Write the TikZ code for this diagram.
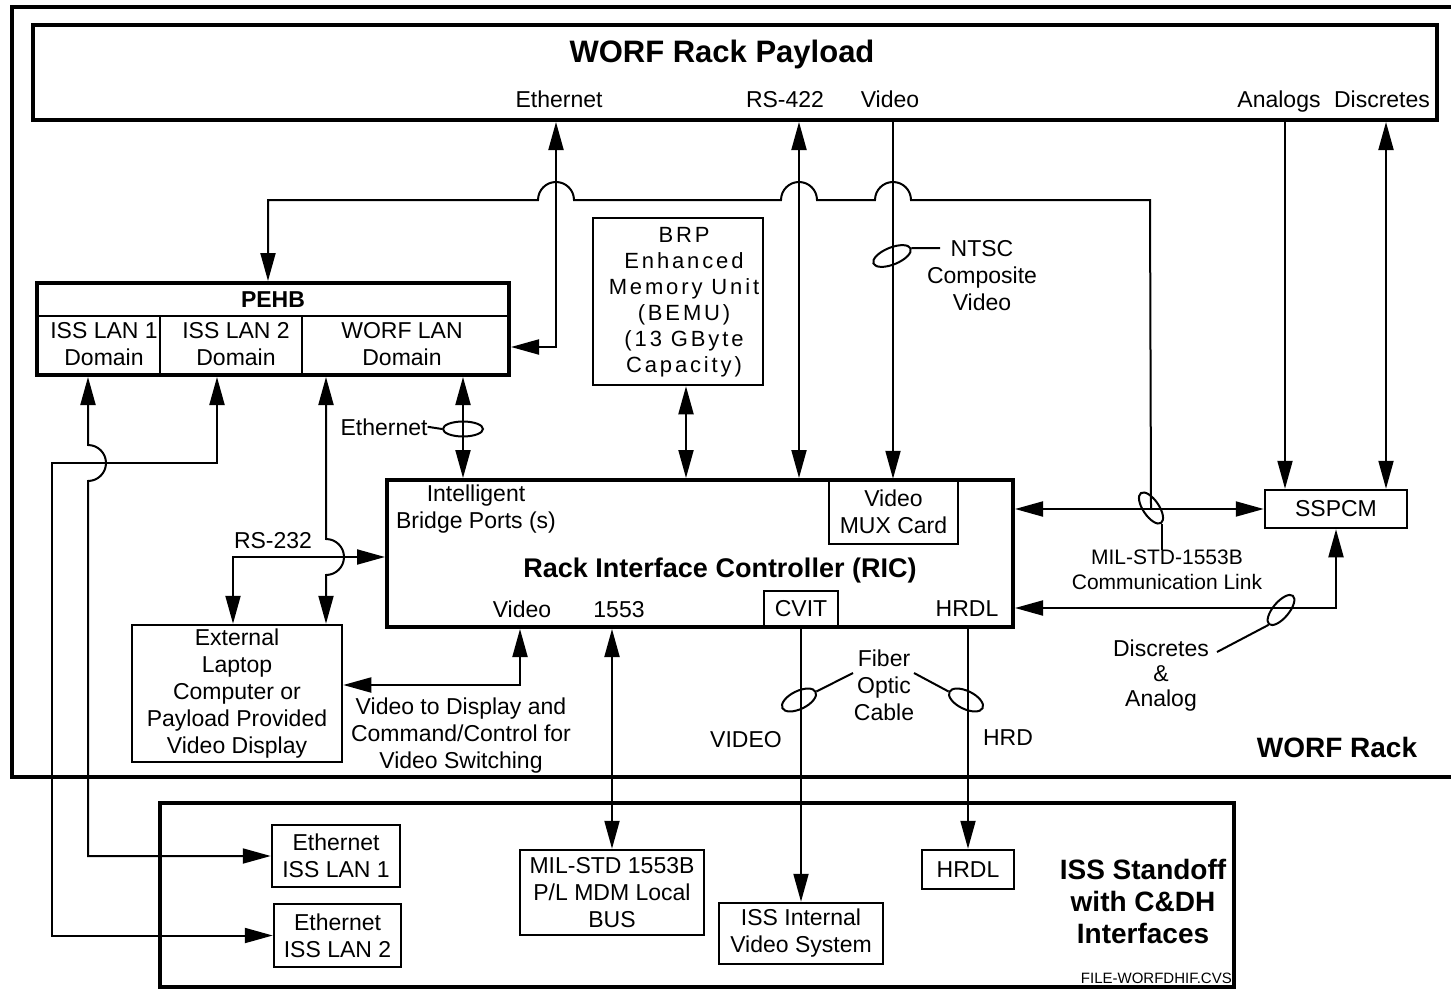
\documentclass[tikz,border=0pt]{standalone}
\usepackage{fontspec}
\setmainfont{Liberation Sans}
\usetikzlibrary{arrows.meta,shapes.geometric,calc}
\newcommand\lblfont{\fontsize{23}{27}\selectfont}
\newcommand\headfont{\fontsize{28}{32}\selectfont\bfseries}
\tikzset{
  wire/.style={line width=2pt},
  oneway/.style={wire, -{Triangle[length=28pt,width=15pt]}},
  twoway/.style={wire, {Triangle[length=28pt,width=15pt]}-{Triangle[length=28pt,width=15pt]}},
  frame/.style={draw, line width=4pt, inner sep=0pt},
  unit/.style={draw, line width=2.5pt, inner sep=0pt, align=center, font=\lblfont},
  tag/.style={inner sep=0pt, font=\lblfont, anchor=base},
  note/.style={inner sep=0pt, align=center, font=\lblfont},
  bundle/.style={draw, ellipse, line width=2pt, inner sep=0pt}
}
\begin{document}
\begin{tikzpicture}[x=1pt,y=-1pt]
  \useasboundingbox (0,0) rectangle (1451,990);
  % WORF rack outline (open at the right edge)
  \draw[line width=4pt] (1460,7) -| (12,777) -- (1460,777);

  % payload
  \node[frame, minimum width=1404pt, minimum height=95pt] (payload) at (735,72.5) {};
  \node[tag, font=\fontsize{31}{36}\selectfont\bfseries] (title) at (722,63) {WORF Rack Payload};
  \node[tag] (ethtop) at (559,107) {Ethernet};
  \node[tag] (rstop) at (785,107) {RS-422};
  \node[tag] (vidtop) at (890,107) {Video};
  \node[tag] (anatop) at (1279,107) {Analogs};
  \node[tag] (distop) at (1382,107) {Discretes};

  % PEHB
  \node[frame, minimum width=472pt, minimum height=92pt] (pehb) at (273,329) {};
  \coordinate (pehbrow) at (0,316);
  \coordinate (cellA) at (160,0);
  \coordinate (cellB) at (302,0);
  \draw[line width=2.5pt] (pehb.west |- pehbrow) -- (pehb.east |- pehbrow);
  \draw[line width=2.5pt] (cellA |- pehbrow) -- (cellA |- pehb.south);
  \draw[line width=2.5pt] (cellB |- pehbrow) -- (cellB |- pehb.south);
  \node[tag, font=\lblfont\bfseries] (pehbname) at (273,307) {PEHB};
  \node[note] (lanone) at (104,344) {ISS LAN 1\\Domain};
  \node[note] (lantwo) at (236,344) {ISS LAN 2\\Domain};
  \node[note] (worflan) at (402,344) {WORF LAN\\Domain};

  % BEMU
  \node[unit, minimum width=170pt, minimum height=167pt] (bemu) at (678,301.5) {};
  \node[note, font=\fontsize{22}{26}\selectfont\addfontfeature{LetterSpace=13}] (bemutext) at (684,302)
    {BRP\\Enhanced\\Memory Unit\\(BEMU)\\(13 GByte\\Capacity)};

  % RIC
  \node[frame, minimum width=626pt, minimum height=147pt] (ric) at (700,553.5) {};
  \node[unit, minimum width=129pt, minimum height=64pt] (mux) at (893.5,512) {Video\\MUX Card};
  \node[unit, minimum width=74pt, minimum height=36pt] (cvit) at (801,609) {CVIT};
  \node[note] (bridge) at (476,509) {Intelligent\\Bridge Ports (s)};
  \node[tag, font=\fontsize{27}{32}\selectfont\bfseries] (ricname) at (720,577) {Rack Interface Controller (RIC)};
  \node[tag] (ricvid) at (522,617) {Video};
  \node[tag] (ric1553) at (619,617) {1553};
  \node[tag] (richrdl) at (967,616) {HRDL};

  \node[unit, minimum width=142pt, minimum height=38pt] (sspcm) at (1336,509) {SSPCM};
  \node[unit, minimum width=210pt, minimum height=137pt] (laptop) at (237,693.5)
    {External\\Laptop\\Computer or\\Payload Provided\\Video Display};

  % ISS standoff
  \node[frame, minimum width=1074pt, minimum height=184pt] (iss) at (697,895) {};
  \node[unit, minimum width=128pt, minimum height=62pt] (lanbox1) at (336,856) {Ethernet\\ISS LAN 1};
  \node[unit, minimum width=127pt, minimum height=63pt] (lanbox2) at (337.5,935.5) {Ethernet\\ISS LAN 2};
  \node[unit, minimum width=184pt, minimum height=85pt] (mdm) at (612,892.5) {MIL-STD 1553B\\P/L MDM Local\\BUS};
  \node[unit, minimum width=164pt, minimum height=61pt] (ivs) at (801,933.5) {ISS Internal\\Video System};
  \node[unit, minimum width=92pt, minimum height=39pt] (hrdlbox) at (968,869.5) {HRDL};
  \node[note, font=\headfont] (standoff) at (1143,901) {ISS Standoff\\with C\&DH\\Interfaces};
  \node[tag, font=\fontsize{15}{18}\selectfont, anchor=base east] (fileid) at (1232,983) {FILE-WORFDHIF.CVS};

  % free labels
  \node[note] (ntsc) at (982,276) {NTSC\\Composite\\Video};
  \node[tag] (ethmid) at (384,435) {Ethernet};
  \node[tag] (rstwo) at (273,548) {RS-232};
  \node[note] (vidnote) at (461,736) {Video to Display and\\Command/Control for\\Video Switching};
  \node[note, font=\fontsize{21}{25}\selectfont] (milnote) at (1167,570) {MIL-STD-1553B\\Communication Link};
  \node[note, font=\fontsize{23}{25}\selectfont] (discnote) at (1161,676) {Discretes\\\&\\Analog};
  \node[tag, font=\headfont] (rackname) at (1337,757) {WORF Rack};
  \node[note] (fiber) at (884,685) {Fiber\\Optic\\Cable};
  \node[tag] (vidlow) at (746,747) {VIDEO};
  \node[tag] (hrdlow) at (1008,745) {HRD};

  % cable bundles
  \node[bundle, minimum width=40pt, minimum height=17pt, rotate=22] (ntscring) at (892,256) {};
  \node[bundle, minimum width=40pt, minimum height=15pt] (ethring) at (463,429) {};
  \node[bundle, minimum width=36pt, minimum height=16pt, rotate=-56] (milring) at (1151,508) {};
  \node[bundle, minimum width=37pt, minimum height=16pt, rotate=50] (discring) at (1281,610) {};
  \node[bundle, minimum width=37pt, minimum height=18pt, rotate=26] (vidring) at (799,700) {};
  \node[bundle, minimum width=37pt, minimum height=18pt, rotate=-26] (hrdring) at (966,700) {};

  \coordinate (ntscend) at (940,248);
  \coordinate (discend) at (1217,652);
  \coordinate (fiberl) at (853,673);
  \coordinate (fiberr) at (914,673);
  \draw[wire] (ntscring.east) -- (ntscend);
  \draw[wire] (ethmid.east) -- (ethring.west);
  \draw[wire] (milring.east) -- (milring.east |- milnote.north);
  \draw[wire] (discring.west) -- (discend);
  \draw[wire] (fiberl) -- (vidring.east);
  \draw[wire] (fiberr) -- (hrdring.west);

  % columns and rows of the wiring
  \coordinate (ethcol) at (556,0);
  \coordinate (rscol) at (799,0);
  \coordinate (vidcol) at (893,0);
  \coordinate (anacol) at (1285,0);
  \coordinate (discol) at (1386,0);
  \coordinate (bemucol) at (686,0);
  \coordinate (lancol) at (463,0);
  \coordinate (wcol) at (326,0);
  \coordinate (rscolb) at (233,0);
  \coordinate (vidbcol) at (520,0);
  \coordinate (lan1col) at (88,0);
  \coordinate (lan2col) at (217,0);
  \coordinate (busL) at (268,200);
  \coordinate (busR) at (1150,200);
  \coordinate (ethrow) at (0,347);
  \coordinate (rsrow) at (0,557);
  \coordinate (disprow) at (0,685);
  \coordinate (hoprow) at (0,463);
  \coordinate (lan2turn) at (52,463);
  \coordinate (discrow) at (0,608);

  % upper bus with hops
  \draw[oneway] (milring.center) -- (busR)
    -- ($(vidcol |- busR)+(18,0)$) arc[start angle=0, end angle=-180, radius=18]
    -- ($(rscol |- busR)+(18,0)$) arc[start angle=0, end angle=-180, radius=18]
    -- ($(ethcol |- busR)+(18,0)$) arc[start angle=0, end angle=-180, radius=18]
    -- (busL) -- (busL |- pehb.north);

  \draw[twoway] (pehb.east |- ethrow) -| (ethcol |- payload.south);
  \draw[twoway] (rscol |- payload.south) -- (rscol |- ric.north);
  \draw[oneway] (vidcol |- payload.south) -- (vidcol |- mux.north);
  \draw[oneway] (anacol |- payload.south) -- (anacol |- sspcm.north);
  \draw[twoway] (discol |- payload.south) -- (discol |- sspcm.north);
  \draw[twoway] (bemucol |- bemu.south) -- (bemucol |- ric.north);
  \draw[twoway] (lancol |- pehb.south) -- (lancol |- ric.north);

  % left side
  \draw[twoway] (wcol |- pehb.south) -- ($(wcol |- rsrow)+(0,-18)$)
    arc[start angle=-90, end angle=90, radius=18] -- (wcol |- laptop.north);
  \draw[twoway] (ric.west |- rsrow) -| (rscolb |- laptop.north);
  \draw[twoway] (vidbcol |- ric.south) |- (laptop.east |- disprow);
  \draw[twoway] (lan1col |- pehb.south) -- ($(lan1col |- hoprow)+(0,-18)$)
    arc[start angle=-90, end angle=90, radius=18] |- (lanbox1.west);
  \draw[twoway] (lan2col |- pehb.south) |- (lan2turn) |- (lanbox2.west);

  % down to the ISS
  \draw[twoway] (mdm.north |- ric.south) -- (mdm.north);
  \draw[oneway] (cvit.south) -- (cvit.south |- ivs.north);
  \draw[oneway] (hrdlbox.north |- ric.south) -- (hrdlbox.north);

  % right side
  \draw[twoway] (ric.east |- sspcm.west) -- (sspcm.west);
  \draw[twoway] (ric.east |- discrow) -| (sspcm.south);
\end{tikzpicture}
\end{document}
